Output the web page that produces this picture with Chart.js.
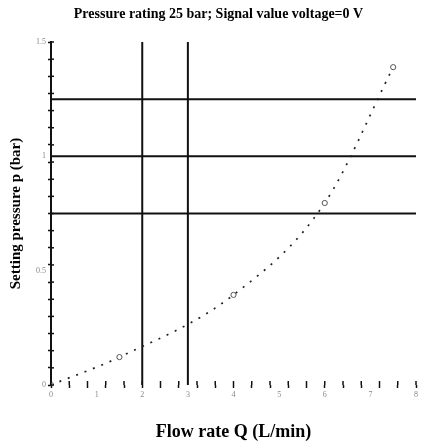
<!DOCTYPE html>
<html>
<head>
<meta charset="utf-8">
<script src="https://cdn.jsdelivr.net/npm/chart.js@4.4.1/dist/chart.umd.min.js"></script>
<style>
html,body{margin:0;padding:0;background:#fff;}
#wrap{width:421px;height:448px;}
</style>
</head>
<body>
<div id="wrap"><canvas id="c" width="421" height="448"></canvas></div>
<script>
// ---- data ----
const flowQ = [0, 1.5, 4, 6, 7.5];            // L/min (marker points)
const pressureP = [0, 0.122, 0.394, 0.796, 1.39]; // bar
const refPressures = [0.75, 1.0, 1.25];       // horizontal reference lines (bar)
const refFlows = [2, 3];                       // vertical reference lines (L/min)
const xLabels = [0, 1, 2, 3, 4, 5, 6, 7, 8];
const yLabels = [0, 0.5, 1, 1.5];
const xMinorStep = 0.4;
const yMinorStep = 0.075;
const xMax = 8, yMax = 1.5;

const titleText = 'Pressure rating 25 bar; Signal value voltage=0 V';
const xTitle = 'Flow rate Q (L/min)';
const yTitle = 'Setting pressure p (bar)';

// target plot box inside the 421x448 canvas
const target = { left: 51, top: 42, right: 419, bottom: 385 };

function near(a, b){ return Math.abs(a - b) < 1e-6; }
function isLabel(v, labels){ return labels.some(l => near(l, v)); }
function isMinor(v, step){ const k = v / step; return Math.abs(k - Math.round(k)) < 1e-6; }
function buildTicks(step, max, labels){
  const vals = [];
  for (let i = 0; i * step <= max + 1e-9; i++) vals.push(+(i * step).toFixed(6));
  labels.forEach(l => { if (!vals.some(v => near(v, l))) vals.push(l); });
  vals.sort((a, b) => a - b);
  return vals.map(v => ({ value: v }));
}

const curve = flowQ.map((q, i) => ({ x: q, y: pressureP[i] }));
const datasets = [];
refPressures.forEach(p => datasets.push({
  data: [{ x: 0, y: p }, { x: xMax, y: p }],
  borderColor: '#111', borderWidth: 2, pointRadius: 0, showLine: true, order: 2
}));
refFlows.forEach(q => datasets.push({
  data: [{ x: q, y: 0 }, { x: q, y: yMax }],
  borderColor: '#111', borderWidth: 2, pointRadius: 0, showLine: true, order: 2
}));
datasets.push({
  data: curve,
  borderColor: '#222', borderWidth: 1.7, borderDash: [2, 7],
  cubicInterpolationMode: 'monotone', showLine: true,
  pointRadius: 2.6, pointBorderWidth: 1, pointBorderColor: '#555',
  pointBackgroundColor: '#fff', order: 1
});

const innerTicks = {
  id: 'innerTicks',
  afterDraw(chart){
    const ctx = chart.ctx;
    const xs = chart.scales.x, ys = chart.scales.y;
    ctx.save();
    ctx.strokeStyle = '#111';
    ctx.lineWidth = 1.5;
    xs.ticks.forEach(t => {
      if (!isMinor(t.value, xMinorStep)) return;
      const px = xs.getPixelForValue(t.value);
      ctx.beginPath(); ctx.moveTo(px, ys.bottom); ctx.lineTo(px, ys.bottom - 4); ctx.stroke();
    });
    ys.ticks.forEach(t => {
      if (!isMinor(t.value, yMinorStep)) return;
      const py = ys.getPixelForValue(t.value);
      ctx.beginPath(); ctx.moveTo(xs.left, py); ctx.lineTo(xs.left + 3, py); ctx.stroke();
    });
    ctx.restore();
  }
};

const chart = new Chart(document.getElementById('c'), {
  type: 'scatter',
  data: { datasets },
  plugins: [innerTicks],
  options: {
    responsive: false,
    animation: false,
    layout: { padding: { left: 9, right: 0, top: 0, bottom: 5 } },
    plugins: {
      legend: { display: false },
      tooltip: { enabled: false },
      title: {
        display: true, text: titleText, color: '#000',
        font: { family: 'Liberation Serif', weight: 'bold', size: 14 },
        padding: { top: 5, bottom: 19 }
      }
    },
    scales: {
      x: {
        type: 'linear', min: 0, max: xMax,
        afterBuildTicks: s => { s.ticks = buildTicks(xMinorStep, xMax, xLabels); },
        ticks: {
          autoSkip: false, maxRotation: 0, padding: 2,
          color: '#888', font: { family: 'Liberation Serif', size: 8 },
          callback: v => isLabel(v, xLabels) ? String(v) : ''
        },
        grid: {
          drawOnChartArea: false, tickLength: 3, tickWidth: 1.5,
          tickColor: c => (c.tick && isMinor(c.tick.value, xMinorStep)) ? '#111' : 'rgba(0,0,0,0)'
        },
        border: { display: false },
        title: {
          display: true, text: xTitle, color: '#000',
          font: { family: 'Liberation Serif', weight: 'bold', size: 18 },
          padding: { top: 20, bottom: 0 }
        }
      },
      y: {
        type: 'linear', min: 0, max: yMax,
        afterBuildTicks: s => { s.ticks = buildTicks(yMinorStep, yMax, yLabels); },
        ticks: {
          autoSkip: false, padding: 2,
          color: '#888', font: { family: 'Liberation Serif', size: 8 },
          callback: v => isLabel(v, yLabels) ? String(v) : ''
        },
        grid: {
          drawOnChartArea: false, tickLength: 3, tickWidth: 1.5,
          tickColor: c => (c.tick && isMinor(c.tick.value, yMinorStep)) ? '#111' : 'rgba(0,0,0,0)'
        },
        border: { display: true, color: '#111', width: 2 },
        title: {
          display: true, text: yTitle, color: '#000',
          font: { family: 'Liberation Serif', weight: 'bold', size: 15 },
          padding: { top: 0, bottom: 9 }
        }
      }
    }
  }
});

// nudge the layout padding so the plot box lands where the reference has it
for (let k = 0; k < 3; k++) {
  const a = chart.chartArea;
  const p = chart.options.layout.padding;
  p.left += target.left - a.left;
  p.top += target.top - a.top;
  p.right += a.right - target.right;
  p.bottom += a.bottom - target.bottom;
  chart.update('none');
}
</script>
</body>
</html>
